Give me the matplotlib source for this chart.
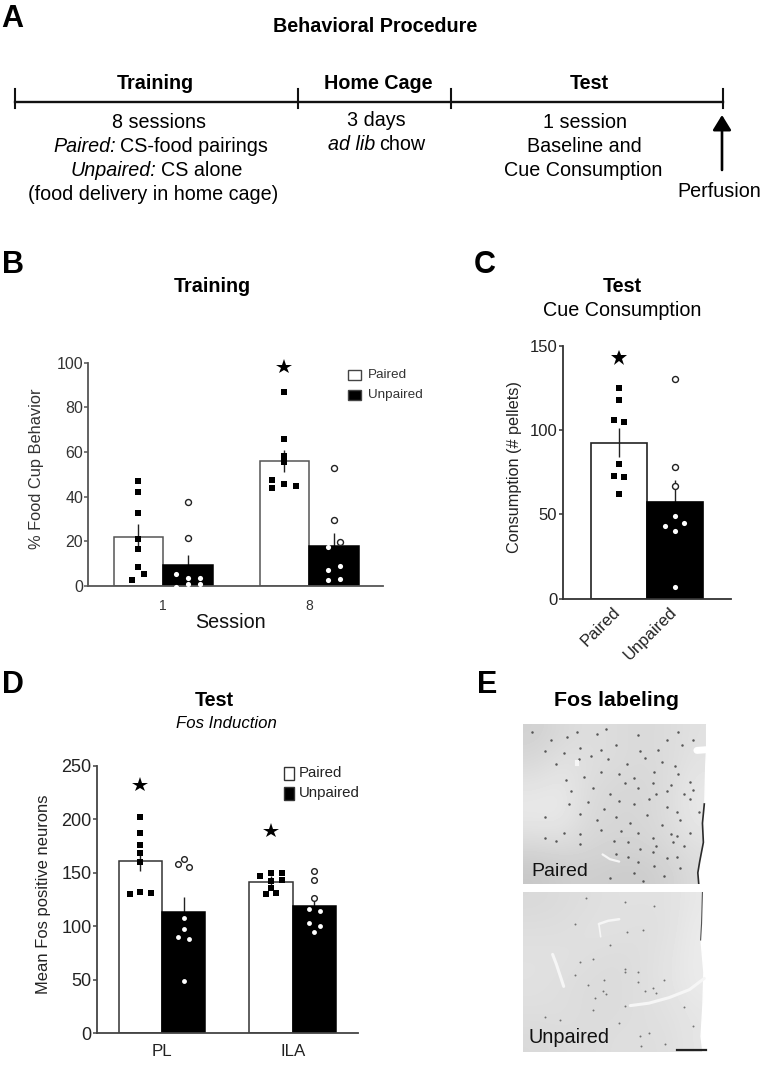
import matplotlib
matplotlib.use("Agg")
import matplotlib.pyplot as plt
from matplotlib.transforms import ScaledTranslation

W, H = 766, 1066
plt.rcParams["font.family"] = ["Liberation Sans", "DejaVu Sans"]

# Panel B: % food cup behavior
b_sessions = ["1", "8"]
b_paired = [22, 56]
b_unpaired = [9.3, 17.7]
b_paired_err = [5.6, 5]
b_unpaired_err = [4.6, 6.2]
b_paired_pts = [
    [(0, 47), (0, 42), (0, 32.5), (0, 21), (0, 16.5), (0, 8.5), (0.12, 5.2), (-0.12, 2.7)],
    [(0, 87), (0, 66), (0, 58), (0, 57), (0, 55.5), (-0.24, 47.5), (-0.24, 43.7), (0, 45.7), (0.24, 45)],
]
b_unpaired_pts = [
    [(0, 37.5), (0, 21.5), (-0.24, 5.2), (-0.24, -0.3), (0, 3.7), (0, 1), (0.24, 3.7), (0.24, 1)],
    [(0, 53), (0, 29.5), (-0.12, 17.3), (0.12, 19.8), (-0.12, 7.2), (0.12, 9), (-0.12, 2.7), (0.12, 3.1)],
]

# Panel C: consumption
c_labels = ["Paired", "Unpaired"]
c_means = [92.5, 57.5]
c_err = [8.7, 13]
c_paired_pts = [(0, 125), (0, 118), (-0.09, 106), (0.09, 105), (0, 80), (-0.09, 73), (0.09, 72), (0, 62)]
c_unpaired_pts = [(0, 130), (0, 78), (0, 67), (0, 49), (-0.17, 43), (0.17, 45), (0, 40), (0, 7)]

# Panel D: Fos positive neurons
d_regions = ["PL", "ILA"]
d_paired = [161, 141]
d_unpaired = [113, 118.5]
d_paired_err = [9.5, 6]
d_unpaired_err = [14.5, 5]
d_paired_pts = [
    [(0, 202), (0, 187), (0, 176), (0, 168), (0, 160), (-0.25, 130), (0, 132), (0.25, 131)],
    [(-0.25, 147), (0, 150), (0.25, 150), (0, 142.5), (0.25, 143.5), (0, 136), (-0.12, 130), (0.12, 131)],
]
d_unpaired_pts = [
    [(0, 163), (-0.12, 158), (0.12, 155), (0, 108), (0, 97), (-0.12, 90), (0.12, 88), (0, 49)],
    [(0, 152), (0, 143), (0, 126), (-0.12, 116), (0.12, 114), (-0.12, 103), (0.12, 100), (0, 95)],
]

e_paired_cells = [
    (.05, .05), (.15, .1), (.24, .08), (.29, .05), (.4, .06), (.45, .03), (.62, .07), (.84, .05), (.78, .1),
    (.12, .17), (.22, .18), (.31, .15), (.42, .16), (.5, .13), (.63, .17), (.73, .16), (.86, .13), (.92, .1),
    (.18, .25), (.3, .22), (.37, .2), (.46, .22), (.56, .25), (.66, .21), (.75, .24), (.82, .26), (.71, .3),
    (.23, .35), (.33, .33), (.42, .3), (.52, .31), (.6, .34), (.7, .37), (.8, .38), (.84, .31), (.9, .36),
    (.26, .42), (.38, .4), (.47, .44), (.55, .37), (.62, .4), (.72, .44), (.78, .42), (.87, .44), (.92, .41),
    (.25, .5), (.35, .49), (.44, .53), (.52, .48), (.6, .5), (.68, .47), (.78, .52), (.83, .55), (.9, .47),
    (.31, .56), (.4, .6), (.5, .58), (.58, .62), (.67, .57), (.75, .63), (.85, .6), (.12, .58), (.95, .55),
    (.22, .68), (.31, .69), (.42, .66), (.53, .67), (.62, .68), (.7, .71), (.8, .69), (.83, .7), (.9, .68),
    (.31, .75), (.49, .73), (.57, .74), (.63, .78), (.72, .76), (.81, .74), (.87, .76), (.12, .71), (.18, .73),
    (.5, .81), (.57, .83), (.62, .86), (.7, .8), (.78, .84), (.83, .83), (.71, .89), (.76, .95), (.6, .93),
    (.47, .96), (.65, .98), (.85, .9),
]
e_unpaired_cells = [
    (.34, .04), (.55, .06), (.71, .09), (.28, .2), (.65, .24), (.56, .25), (.47, .33), (.38, .42), (.31, .44),
    (.55, .48), (.62, .5), (.28, .52), (.44, .55), (.35, .58), (.55, .5), (.43, .62), (.62, .56), (.7, .6),
    (.39, .66), (.45, .64), (.66, .62), (.76, .55), (.55, .71), (.72, .63), (.12, .78), (.38, .74), (.2, .8),
    (.52, .82), (.63, .9), (.68, .88), (.64, .96), (.77, .95), (.87, .72), (.92, .84),
]
e_paired_shading = [
    [.82, .85, .87, .86, .85, .86, .88],
    [.85, .89, .87, .86, .85, .86, .89],
    [.90, .91, .86, .84, .84, .86, .91],
    [.91, .91, .85, .84, .84, .86, .91],
    [.85, .86, .84, .83, .83, .85, .88],
    [.78, .80, .81, .80, .80, .82, .86],
]
e_unpaired_shading = [
    [.85, .86, .87, .88, .88, .88, .91],
    [.87, .87, .88, .88, .87, .88, .92],
    [.88, .88, .87, .86, .87, .89, .92],
    [.88, .87, .86, .86, .87, .89, .92],
    [.87, .87, .86, .86, .87, .88, .90],
    [.85, .86, .86, .87, .87, .87, .90],
]

fig = plt.figure(figsize=(W / 100, H / 100), dpi=100, facecolor="white")


def px_axes(left, top, right, bottom):
    # axes box given in pixels of the figure
    return fig.add_axes([left / W, 1 - bottom / H, (right - left) / W, (bottom - top) / H])


def ftext(x, y, s, **kw):
    kw.setdefault("ha", "center")
    kw.setdefault("va", "center")
    return fig.text(x / W, 1 - y / H, s, **kw)


def mixed_text(x, y, italic, plain, size):
    # italic start followed by upright text on the same line
    t = ftext(x, y, italic, ha="left", fontsize=size, fontstyle="italic")
    fig.canvas.draw()
    x1 = t.get_window_extent().x1
    ftext(x1 + 4, y, plain, ha="left", fontsize=size)


def draw_point(ax, x, v, bar_top, ms_ci):
    if v < bar_top:
        ax.plot(x, v, "o", color="white", ms=ms_ci - 0.9, mew=0, zorder=4, clip_on=False)
    else:
        ax.plot(x, v, "o", mfc="white", mec="#222222", ms=ms_ci - 0.3, mew=1, zorder=4, clip_on=False)


def draw_pair(ax, c, paired, unpaired, p_err, u_err, p_pts, u_pts, ms_sq, ms_ci, edge):
    ax.bar(c - 0.5, paired, 1, color="white", edgecolor=edge, linewidth=1.1, zorder=2)
    ax.bar(c + 0.5, unpaired, 1, color="black", edgecolor="black", linewidth=1.1, zorder=2)
    ax.errorbar(c - 0.5, paired, yerr=p_err, color="#222222", linewidth=1, zorder=3)
    ax.errorbar(c + 0.5, unpaired, yerr=u_err, color="#222222", linewidth=1, zorder=1)
    for dx, v in p_pts:
        ax.plot(c - 0.5 + dx, v, "s", color="black", ms=ms_sq, mew=0, zorder=4, clip_on=False)
    for dx, v in u_pts:
        draw_point(ax, c + 0.5 + dx, v, unpaired, ms_ci)


def style_axis(ax, col, lw=1.3):
    for side in ["top", "right"]:
        ax.spines[side].set_visible(False)
    for side in ["left", "bottom"]:
        ax.spines[side].set_color(col)
        ax.spines[side].set_linewidth(lw)
    ax.patch.set_alpha(0)


# ---- Panel A
for x, y, s in [(1, 19, "A"), (2, 265, "B"), (474, 265, "C"), (2, 685, "D"), (477, 685, "E")]:
    ftext(x, y, s, ha="left", fontsize=22, fontweight="bold")

BODY = 14.2
ftext(375, 27, "Behavioral Procedure", fontsize=BODY, fontweight="bold")
ftext(155, 83.5, "Training", fontsize=BODY, fontweight="bold")
ftext(378, 83.5, "Home Cage", fontsize=BODY, fontweight="bold")
ftext(589, 83.5, "Test", fontsize=BODY, fontweight="bold")

tl = px_axes(0, 0, W, H)
tl.set_xlim(0, W)
tl.set_ylim(H, 0)
tl.axis("off")
tl.plot([15, 723], [101.5, 101.5], color="#111111", lw=1.7)
for x in [15, 298, 451, 723]:
    tl.plot([x, x], [89, 108], color="#111111", lw=1.5)
tl.annotate("", xy=(722, 115), xytext=(722, 170),
            arrowprops=dict(arrowstyle="-|>,head_width=0.4,head_length=0.65", mutation_scale=14,
                            color="black", lw=1.9, shrinkA=0, shrinkB=0))

ftext(159, 122.5, "8 sessions", fontsize=BODY)
mixed_text(53, 146.5, "Paired:", "CS-food pairings", BODY)
mixed_text(71, 170.5, "Unpaired:", "CS alone", BODY)
ftext(153, 194.5, "(food delivery in home cage)", fontsize=BODY)
ftext(376, 120.5, "3 days", fontsize=BODY)
mixed_text(328, 144.5, "ad lib", "chow", BODY)
ftext(585, 122.5, "1 session", fontsize=BODY)
ftext(584, 146.5, "Baseline and", fontsize=BODY)
ftext(583.5, 170.5, "Cue Consumption", fontsize=BODY)
ftext(719, 191, "Perfusion", fontsize=BODY)

# ---- Panel B
ftext(212, 287, "Training", fontsize=BODY, fontweight="bold")
grey = "#555555"
ax = px_axes(88, 362.7, 383, 586)
ax.set_xlim(0, 295 / 49.5)
ax.set_ylim(0, 100)
centers_b = [75 / 49.5, 221 / 49.5]
for i, c in enumerate(centers_b):
    draw_pair(ax, c, b_paired[i], b_unpaired[i], b_paired_err[i], b_unpaired_err[i],
              b_paired_pts[i], b_unpaired_pts[i], 4.8, 4.6, grey)
ax.plot(centers_b[1] - 0.5, 98, "*", color="black", ms=11.5, mew=0, zorder=5, clip_on=False)
style_axis(ax, grey)
ax.set_yticks([0, 20, 40, 60, 80, 100])
ax.set_xticks(centers_b)
ax.set_xticklabels(b_sessions)
ax.tick_params(axis="y", labelsize=11.5, colors="#333333", color=grey, length=3, width=1.1, pad=0.5)
ax.tick_params(axis="x", labelsize=10, colors="#333333", length=0, pad=9)
ftext(37, 469, "% Food Cup Behavior", rotation=90, fontsize=11.8, color="#333333")
ftext(230, 623, "Session", fontsize=14.2, color="#111111")
for y, fc, s in [(375, "white", "Paired"), (395, "black", "Unpaired")]:
    tl.bar(354.5, 10, 13, bottom=y - 5, color=fc, edgecolor="#444444", linewidth=1)
    ftext(368, y, s, ha="left", fontsize=9.7, color="#333333")

# ---- Panel C
ftext(622, 287, "Test", fontsize=BODY, fontweight="bold")
ftext(622, 311, "Cue Consumption", fontsize=BODY)
ax = px_axes(562.7, 345.7, 731, 598.7)
ax.set_xlim(0, 168.3 / 56)
ax.set_ylim(0, 150)
cx = [1.0, 2.0]
ax.bar(cx[0], c_means[0], 1, color="white", edgecolor="#222222", linewidth=1.2, zorder=2)
ax.bar(cx[1], c_means[1], 1, color="black", edgecolor="black", linewidth=1.2, zorder=2)
ax.errorbar(cx[0], c_means[0], yerr=c_err[0], color="#222222", lw=1, zorder=3)
ax.errorbar(cx[1], c_means[1], yerr=c_err[1], color="#222222", lw=1, zorder=1)
for dx, v in c_paired_pts:
    ax.plot(cx[0] + dx, v, "s", color="black", ms=4.4, mew=0, zorder=4)
for dx, v in c_unpaired_pts:
    draw_point(ax, cx[1] + dx, v, c_means[1], 4.6)
ax.plot(cx[0], 143, "*", color="black", ms=12, mew=0, zorder=5)
style_axis(ax, "#333333")
ax.set_yticks([0, 50, 100, 150])
ax.set_xticks(cx)
ax.set_xticklabels(c_labels, rotation=45, ha="right", rotation_mode="anchor")
ax.tick_params(axis="y", labelsize=12, colors="#222222", color="#333333", length=3, width=1.1, pad=1)
ax.tick_params(axis="x", labelsize=12, colors="#222222", length=0, pad=4)
shift = ScaledTranslation(-6 / 100, 0, fig.dpi_scale_trans)
for lab in ax.get_xticklabels():
    lab.set_transform(lab.get_transform() + shift)
ftext(514, 467, "Consumption (# pellets)", rotation=90, fontsize=11.7, color="#222222")

# ---- Panel D
ftext(214, 701, "Test", fontsize=BODY, fontweight="bold")
ftext(226, 723, "Fos Induction", fontsize=12.1, fontstyle="italic")
ax = px_axes(97.3, 765.7, 358, 1033.3)
bw = 43.3
ax.set_xlim(0, 260.7 / bw)
ax.set_ylim(0, 250)
centers_d = [64.7 / bw, 195.4 / bw]
for i, c in enumerate(centers_d):
    draw_pair(ax, c, d_paired[i], d_unpaired[i], d_paired_err[i], d_unpaired_err[i],
              d_paired_pts[i], d_unpaired_pts[i], 4.2, 4.4, "#333333")
ax.plot(centers_d[0] - 0.5, 232, "*", color="black", ms=11.5, mew=0, zorder=5)
ax.plot(centers_d[1] - 0.5, 189, "*", color="black", ms=11.5, mew=0, zorder=5)
style_axis(ax, "#444444")
ax.set_yticks([0, 50, 100, 150, 200, 250])
ax.set_xticks(centers_d)
ax.set_xticklabels(d_regions)
ax.tick_params(axis="y", labelsize=13, colors="#222222", color="#444444", length=3, width=1.1, pad=1)
ax.tick_params(axis="x", labelsize=12.2, colors="#222222", length=0, pad=8)
ftext(44, 894, "Mean Fos positive neurons", rotation=90, fontsize=11.9, color="#222222")
for y, fc, s in [(773, "white", "Paired"), (793.5, "black", "Unpaired")]:
    tl.bar(289, 13, 10, bottom=y - 6.5, color=fc, edgecolor="#333333", linewidth=1)
    ftext(299, y, s, ha="left", fontsize=10.8, color="#222222")

# ---- Panel E
ftext(616, 701, "Fos labeling", fontsize=15.4, fontweight="bold")


def section(top, bottom, shading, cells, dot, alpha, label, lx, ly, size):
    ax = px_axes(523, top, 708, bottom)
    ax.imshow(shading, cmap="gray", vmin=0, vmax=1, extent=(0, 1, 1, 0), aspect="auto", interpolation="bicubic")
    ax.scatter([c[0] for c in cells], [c[1] for c in cells], s=dot, c="#2a2a2a", linewidths=0, alpha=alpha)
    ax.set_xlim(0, 1)
    ax.set_ylim(1, 0)
    ax.axis("off")
    ax.text(lx, ly, label, fontsize=size, ha="left", va="center", color="#111111", zorder=6)
    return ax


ax = section(724, 884, e_paired_shading, e_paired_cells, 3.2, 0.75, "Paired", 0.045, 0.925, 14)
# right edge of the tissue
edge_y = [0, .14, .26, .5, .62, .74, .86, .93, 1]
edge_x = [.99, .99, .985, .98, .97, .975, .955, .945, .95]
ax.fill_betweenx(edge_y, edge_x, 1.0, color="white", zorder=3)
ax.plot(edge_x[3:], edge_y[3:], color="#2a2a2a", lw=1.2, zorder=3)
ax.plot([.94, 1], [.165, .16], color="white", lw=5, zorder=3, solid_capstyle="round")
ax.plot([.43, .47, .52], [.815, .845, .86], color="#f6f6f6", lw=1.6, zorder=3, solid_capstyle="round")
ax.plot([.29, .29], [.24, .25], color="#f6f6f6", lw=3, zorder=3)

ax = section(892, 1052, e_unpaired_shading, e_unpaired_cells, 2.0, 0.6, "Unpaired", 0.03, 0.91, 14.3)
edge_y = [0, .2, .3, .5, .7, .9, 1]
edge_x = [.97, .965, .96, .975, .97, .96, .97]
ax.fill_betweenx(edge_y, edge_x, 1.0, color="white", zorder=3)
ax.plot(edge_x[:3], edge_y[:3], color="#555555", lw=0.8, zorder=3)
for xs, ys, lw in [
    ([.16, .18, .2, .22], [.39, .45, .52, .59], 2.2),
    ([.58, .68, .79, .9, .98], [.71, .695, .66, .61, .54], 2.2),
    ([.41, .46, .52], [.2, .18, .17], 1.8),
    ([.41, .42], [.2, .28], 1.2),
]:
    ax.plot(xs, ys, color="#f6f6f6", lw=lw, zorder=3, solid_capstyle="round")
ax.plot([.83, .99], [.985, .985], color="#222222", lw=1.6, zorder=4)

fig.savefig("out.png", dpi=100)
